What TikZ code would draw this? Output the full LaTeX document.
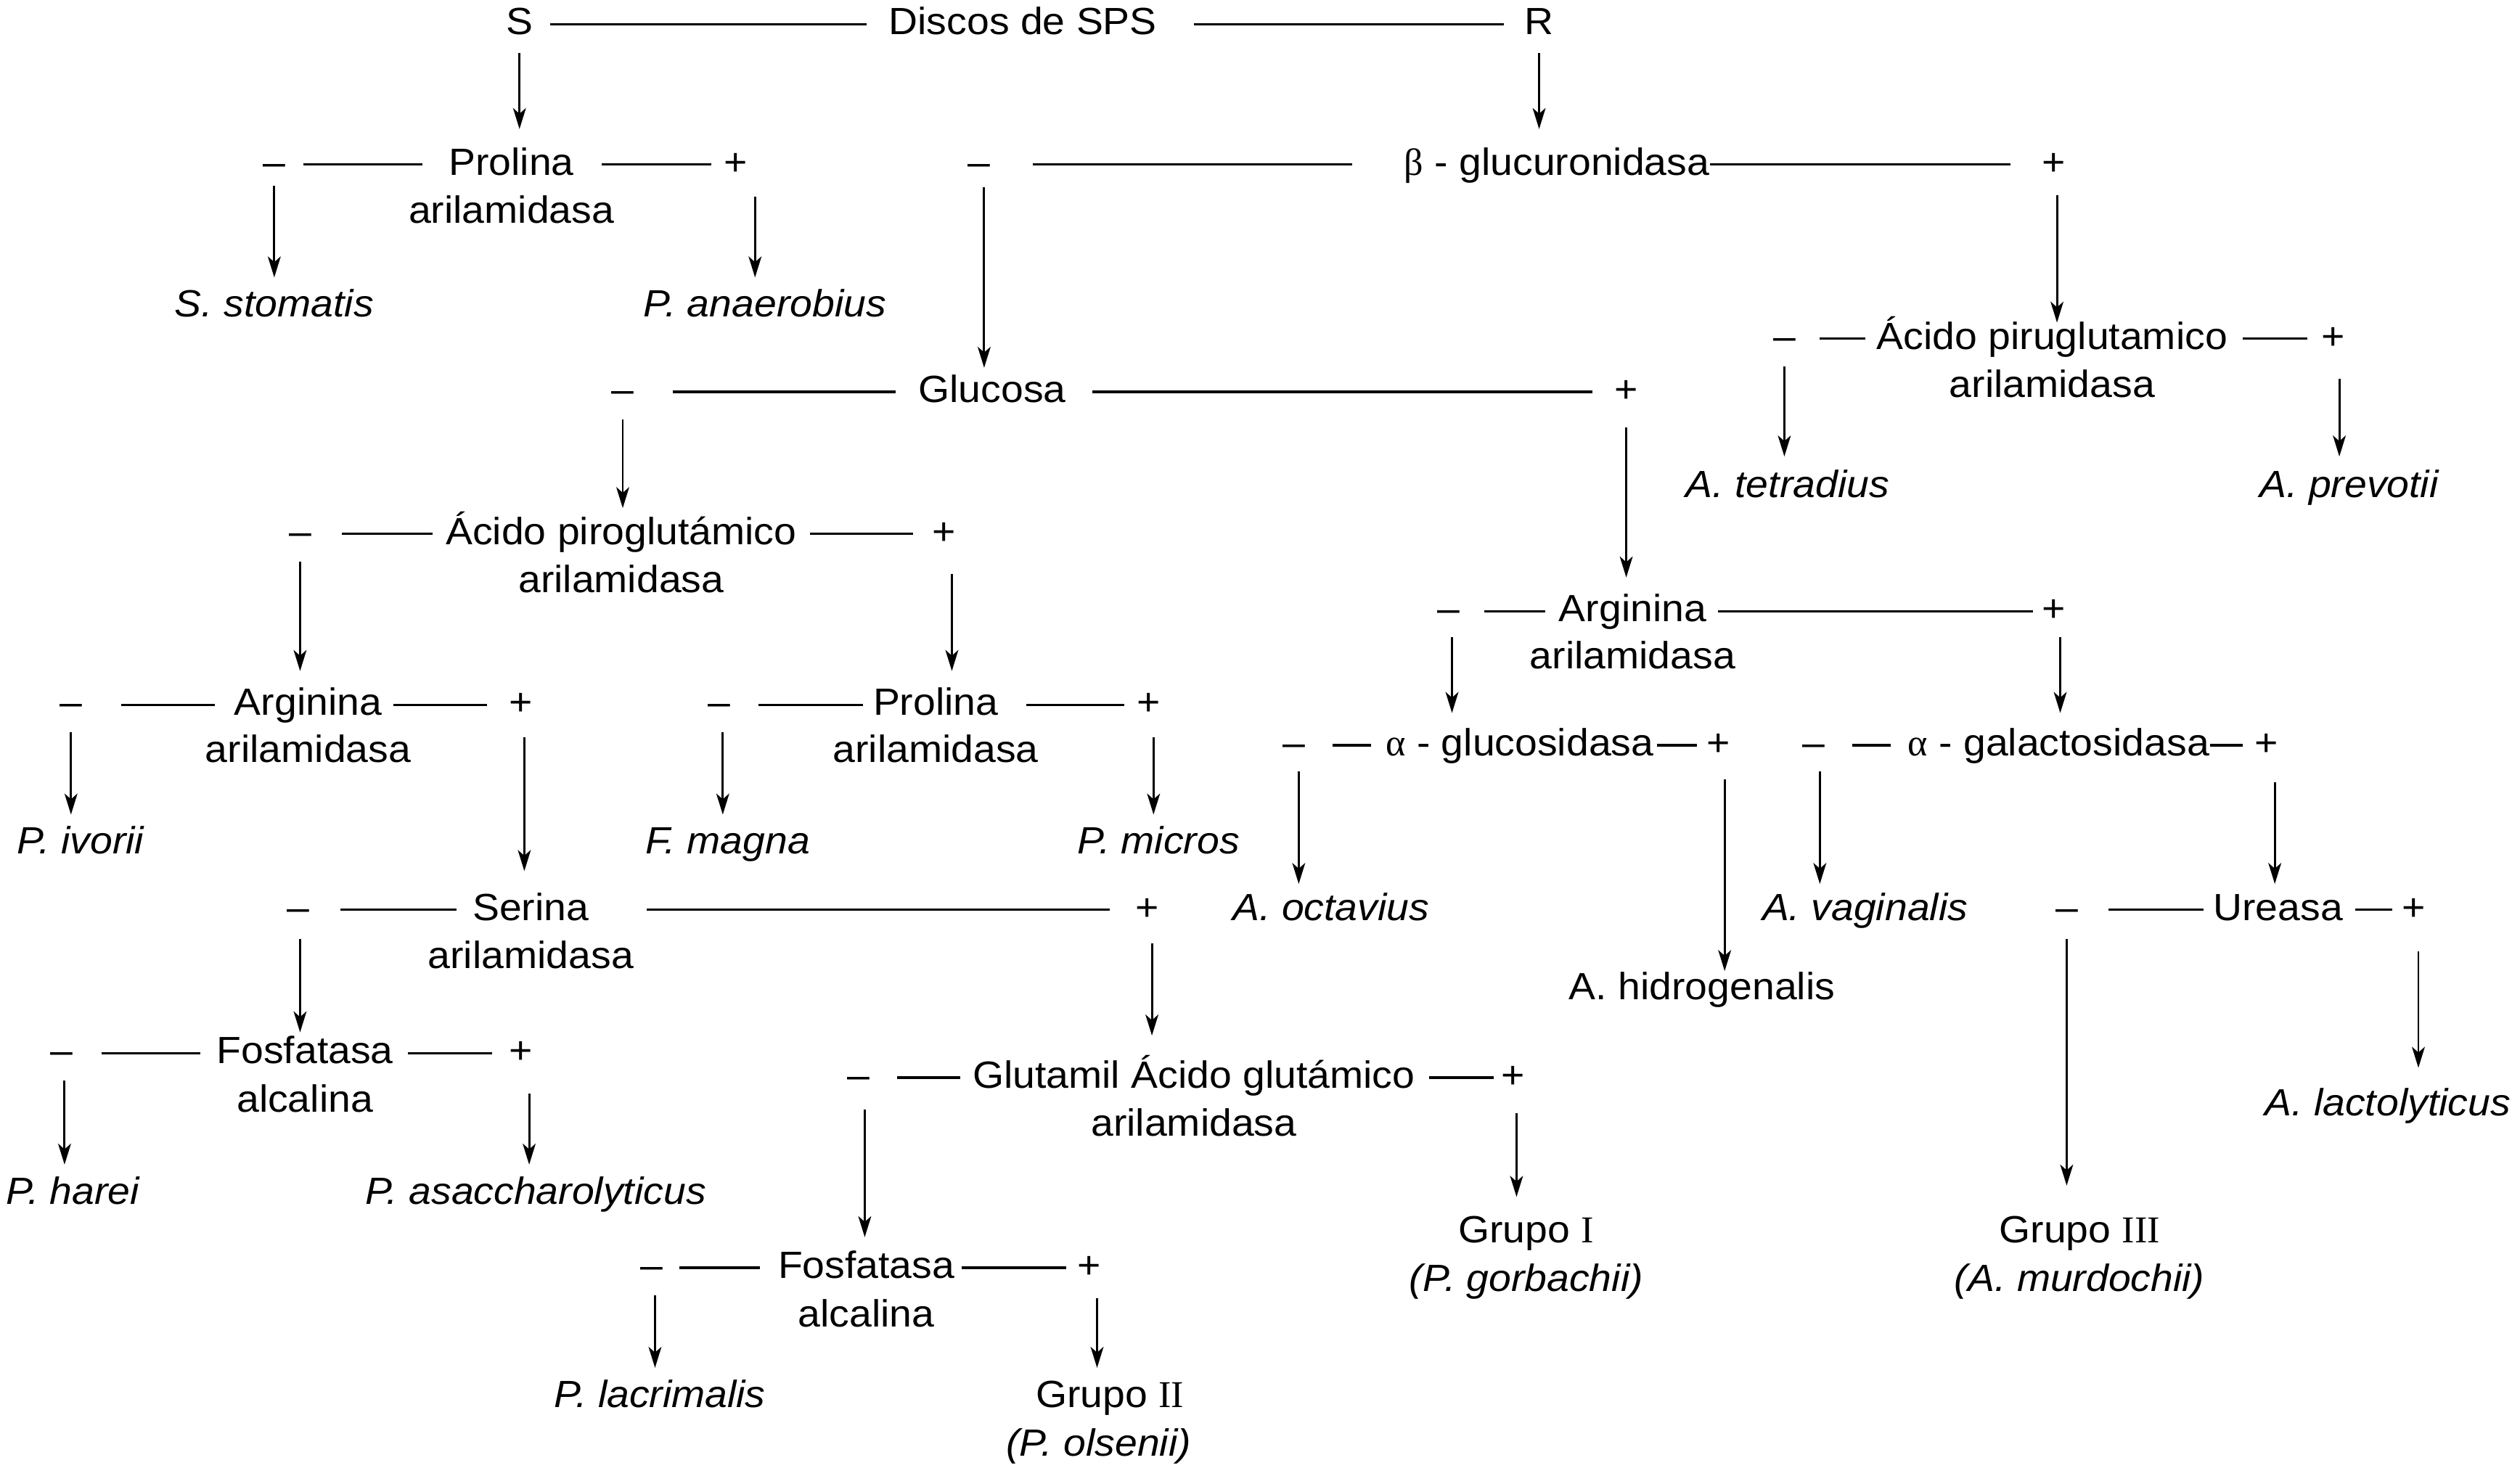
\documentclass[tikz,border=0pt]{standalone}
\usepackage{fontspec}
\setmainfont{Liberation Sans}[FakeStretch=1.06]
\newfontfamily\serfont{Liberation Serif}
\usetikzlibrary{arrows.meta}
\tikzset{
  txt/.style={inner sep=0pt, text height=17pt, text depth=4pt, font=\fontsize{23.5}{28}\selectfont},
  sp/.style={txt, font=\fontsize{23.5}{28}\selectfont\itshape},
  sg/.style={txt},
  hl/.style={line width=1.5pt},
  arr/.style={line width=1.3pt, -{Stealth[length=13pt, width=8pt, inset=3.5pt]}}
}
\newcommand\grk[1]{{\serfont #1}}
\begin{document}
\begin{tikzpicture}[x=1pt, y=-1pt]
\useasboundingbox (0,0) rectangle (1562,915);
% ---------- top
\node[txt] (S) at (322,15) {S};
\node[txt] (disc) at (634,15) {Discos de SPS};
\node[txt] (R) at (954,15) {R};
\draw[hl, shorten <=19pt, shorten >=97pt] (S.center) -- (disc.center);
\draw[hl, shorten <=106pt, shorten >=22pt] (disc.center) -- (R.center);
% ---------- Prolina (S branch)
\node[sg] (mpro) at (170,102) {–};
\node[txt] (pro) at (317,102) {Prolina};
\node[txt] (pro2) at (317,132) {arilamidasa};
\node[sg] (ppro) at (456,102) {+};
\draw[arr, shorten <=18pt, shorten >=22pt] (S.center) -- (S.center |- pro.center);
\draw[hl, shorten <=18pt, shorten >=55pt] (mpro.center) -- (pro.center);
\draw[hl, shorten <=56pt, shorten >=15pt] (pro.center) -- (ppro.center);
\node[sp] (sst) at (170,190) {S. stomatis};
\node[sp] (pan) at (474,190) {P. anaerobius};
\draw[arr, shorten <=13pt, shorten >=18pt] (mpro.center) -- (mpro.center |- sst.center);
\draw[arr, shorten <=20pt, shorten >=18pt] ([xshift=12pt]ppro.center) -- ([xshift=12pt]ppro.center |- pan.center);
% ---------- beta-glucuronidasa (R branch)
\node[sg] (mbg) at (607,102) {–};
\node[txt] (bg) at (965,102) {\grk{β} - glucuronidasa};
\node[sg] (pbg) at (1273,102) {+};
\draw[arr, shorten <=18pt, shorten >=22pt] (R.center) -- (R.center |- bg.center);
\draw[hl, shorten <=33pt, shorten >=127pt] (mbg.center) -- (bg.center);
\draw[hl, shorten <=95pt, shorten >=27pt] (bg.center) -- (pbg.center);
% ---------- Acido piruglutamico (right)
\node[sg] (macr) at (1106,210) {–};
\node[txt] (acr) at (1272,210) {Ácido piruglutamico};
\node[txt] (acr2) at (1272,240) {arilamidasa};
\node[sg] (pacr) at (1446,210) {+};
\draw[arr, shorten <=19pt, shorten >=10pt] ([xshift=2pt]pbg.center) -- ([xshift=2pt]pbg.center |- acr.center);
\draw[hl, shorten <=22pt, shorten >=116pt] (macr.center) -- (acr.center);
\draw[hl, shorten <=118pt, shorten >=16pt] (acr.center) -- (pacr.center);
\node[sp] (ate) at (1108,302) {A. tetradius};
\node[sp] (apr) at (1456,302) {A. prevotii};
\draw[arr, shorten <=17pt, shorten >=19pt] (macr.center) -- (macr.center |- ate.center);
\draw[arr, shorten <=25pt, shorten >=19pt] ([xshift=4pt]pacr.center) -- ([xshift=4pt]pacr.center |- apr.center);
% ---------- Glucosa
\node[sg] (mglu) at (386,243) {–};
\node[txt] (glu) at (615,243) {Glucosa};
\node[sg] (pglu) at (1008,243) {+};
\draw[arr, shorten <=14pt, shorten >=15pt] ([xshift=3pt]mbg.center) -- ([xshift=3pt]mbg.center |- glu.center);
\draw[hl, shorten <=31pt, shorten >=60pt] (mglu.center) -- (glu.center);
\draw[hl, shorten <=62pt, shorten >=21pt] (glu.center) -- (pglu.center);
% ---------- Acido piroglutamico (left)
\node[sg] (mapg) at (186,331) {–};
\node[txt] (apg) at (385,331) {Ácido piroglutámico};
\node[txt] (apg2) at (385,361) {arilamidasa};
\node[sg] (papg) at (585,331) {+};
\draw[arr, shorten <=17pt, shorten >=16pt] (mglu.center) -- (mglu.center |- apg.center);
\draw[hl, shorten <=26pt, shorten >=117pt] (mapg.center) -- (apg.center);
\draw[hl, shorten <=117pt, shorten >=19pt] (apg.center) -- (papg.center);
% ---------- Arginina (right)
\node[sg] (margR) at (898,379) {–};
\node[txt] (argR) at (1012,379) {Arginina};
\node[txt] (argR2) at (1012,408) {arilamidasa};
\node[sg] (pargR) at (1273,379) {+};
\draw[arr, shorten <=22pt, shorten >=21pt] (pglu.center) -- (pglu.center |- argR.center);
\draw[hl, shorten <=22pt, shorten >=54pt] (margR.center) -- (argR.center);
\draw[hl, shorten <=53pt, shorten >=13pt] (argR.center) -- (pargR.center);
% ---------- Arginina (left)
\node[sg] (margL) at (44,437) {–};
\node[txt] (argL) at (191,437) {Arginina};
\node[txt] (argL2) at (191,466) {arilamidasa};
\node[sg] (pargL) at (323,437) {+};
\draw[arr, shorten <=17pt, shorten >=21pt] (mapg.center) -- (mapg.center |- argL.center);
\draw[hl, shorten <=31pt, shorten >=58pt] (margL.center) -- (argL.center);
\draw[hl, shorten <=53pt, shorten >=21pt] (argL.center) -- (pargL.center);
\node[sp] (piv) at (50,523) {P. ivorii};
\draw[arr, shorten <=17pt, shorten >=18pt] (margL.center) -- (margL.center |- piv.center);
% ---------- Prolina (middle)
\node[sg] (mproM) at (446,437) {–};
\node[txt] (proM) at (580,437) {Prolina};
\node[txt] (proM2) at (580,466) {arilamidasa};
\node[sg] (pproM) at (712,437) {+};
\draw[arr, shorten <=25pt, shorten >=21pt] ([xshift=5pt]papg.center) -- ([xshift=5pt]papg.center |- proM.center);
\draw[hl, shorten <=24pt, shorten >=45pt] (mproM.center) -- (proM.center);
\draw[hl, shorten <=56pt, shorten >=15pt] (proM.center) -- (pproM.center);
\node[sp] (fma) at (451,523) {F. magna};
\node[sp] (pmi) at (718,523) {P. micros};
\draw[arr, shorten <=17pt, shorten >=18pt] ([xshift=2pt]mproM.center) -- ([xshift=2pt]mproM.center |- fma.center);
\draw[arr, shorten <=20pt, shorten >=18pt] ([xshift=3pt]pproM.center) -- ([xshift=3pt]pproM.center |- pmi.center);
% ---------- alpha-glucosidasa
\node[sg] (maglu) at (802,462) {–};
\node[txt] (aglu) at (942,462) {\grk{α} - glucosidasa};
\node[sg] (paglu) at (1065,462) {+};
\draw[arr, shorten <=16pt, shorten >=20pt] ([xshift=2pt]margR.center) -- ([xshift=2pt]margR.center |- aglu.center);
\draw[hl, shorten <=24pt, shorten >=92pt] (maglu.center) -- (aglu.center);
\draw[hl, shorten <=85pt, shorten >=13pt] (aglu.center) -- (paglu.center);
\node[sp] (aoc) at (825,564) {A. octavius};
\node[txt] (ahi) at (1055,613) {A. hidrogenalis};
\draw[arr, shorten <=16pt, shorten >=16pt] ([xshift=3pt]maglu.center) -- ([xshift=3pt]maglu.center |- aoc.center);
\draw[arr, shorten <=21pt, shorten >=11pt] ([xshift=4pt]paglu.center) -- ([xshift=4pt]paglu.center |- ahi.center);
% ---------- alpha-galactosidasa
\node[sg] (magal) at (1124,462) {–};
\node[txt] (agal) at (1276,462) {\grk{α} - galactosidasa};
\node[sg] (pagal) at (1405,462) {+};
\draw[arr, shorten <=16pt, shorten >=20pt] ([xshift=4pt]pargR.center) -- ([xshift=4pt]pargR.center |- agal.center);
\draw[hl, shorten <=24pt, shorten >=104pt] (magal.center) -- (agal.center);
\draw[hl, shorten <=94pt, shorten >=15pt] (agal.center) -- (pagal.center);
\node[sp] (ava) at (1156,564) {A. vaginalis};
\draw[arr, shorten <=16pt, shorten >=16pt] ([xshift=4pt]magal.center) -- ([xshift=4pt]magal.center |- ava.center);
% ---------- Ureasa
\node[sg] (mure) at (1281,564) {–};
\node[txt] (ure) at (1412,564) {Ureasa};
\node[sg] (pure) at (1496,564) {+};
\draw[arr, shorten <=23pt, shorten >=16pt] ([xshift=5pt]pagal.center) -- ([xshift=5pt]pagal.center |- ure.center);
\draw[hl, shorten <=26pt, shorten >=46pt] (mure.center) -- (ure.center);
\draw[hl, shorten <=48pt, shorten >=13pt] (ure.center) -- (pure.center);
\node[txt] (g3) at (1289,764) {Grupo \grk{III}};
\node[sp] (g3b) at (1289,794) {(A. murdochii)};
\node[sp] (ala) at (1480,685) {A. lactolyticus};
\draw[arr, shorten <=18pt, shorten >=29pt] (mure.center) -- (mure.center |- g3.center);
\draw[arr, shorten <=26pt, shorten >=23pt] ([xshift=3pt]pure.center) -- ([xshift=3pt]pure.center |- ala.center);
% ---------- Serina
\node[sg] (mser) at (185,564) {–};
\node[txt] (ser) at (329,564) {Serina};
\node[txt] (ser2) at (329,594) {arilamidasa};
\node[sg] (pser) at (711,564) {+};
\draw[arr, shorten <=20pt, shorten >=24pt] ([xshift=2pt]pargL.center) -- ([xshift=2pt]pargL.center |- ser.center);
\draw[hl, shorten <=26pt, shorten >=46pt] (mser.center) -- (ser.center);
\draw[hl, shorten <=72pt, shorten >=23pt] (ser.center) -- (pser.center);
% ---------- Fosfatasa alcalina (left)
\node[sg] (mfos1) at (38,653) {–};
\node[txt] (fos1) at (189,653) {Fosfatasa};
\node[txt] (fos1b) at (189,683) {alcalina};
\node[sg] (pfos1) at (323,653) {+};
\draw[arr, shorten <=18pt, shorten >=13pt] ([xshift=1pt]mser.center) -- ([xshift=1pt]mser.center |- fos1.center);
\draw[hl, shorten <=25pt, shorten >=65pt] (mfos1.center) -- (fos1.center);
\draw[hl, shorten <=64pt, shorten >=18pt] (fos1.center) -- (pfos1.center);
\node[sp] (pha) at (45,740) {P. harei};
\node[sp] (pas) at (332,740) {P. asaccharolyticus};
\draw[arr, shorten <=17pt, shorten >=18pt] ([xshift=2pt]mfos1.center) -- ([xshift=2pt]mfos1.center |- pha.center);
\draw[arr, shorten <=25pt, shorten >=18pt] ([xshift=5pt]pfos1.center) -- ([xshift=5pt]pfos1.center |- pas.center);
% ---------- Glutamil
\node[sg] (mglt) at (532,668) {–};
\node[txt] (glt) at (740,668) {Glutamil Ácido glutámico};
\node[txt] (glt2) at (740,698) {arilamidasa};
\node[sg] (pglt) at (938,668) {+};
\draw[arr, shorten <=21pt, shorten >=26pt] ([xshift=3pt]pser.center) -- ([xshift=3pt]pser.center |- glt.center);
\draw[hl, shorten <=24pt, shorten >=145pt] (mglt.center) -- (glt.center);
\draw[hl, shorten <=146pt, shorten >=12pt] (glt.center) -- (pglt.center);
\node[txt] (g1) at (946,764) {Grupo \grk{I}};
\node[sp] (g1b) at (946,794) {(P. gorbachii)};
\draw[arr, shorten <=22pt, shorten >=22pt] ([xshift=2pt]pglt.center) -- ([xshift=2pt]pglt.center |- g1.center);
% ---------- Fosfatasa alcalina (middle)
\node[sg] (mfos2) at (404,786) {–};
\node[txt] (fos2) at (537,786) {Fosfatasa};
\node[txt] (fos2b) at (537,816) {alcalina};
\node[sg] (pfos2) at (675,786) {+};
\draw[arr, shorten <=20pt, shorten >=19pt] ([xshift=4pt]mglt.center) -- ([xshift=4pt]mglt.center |- fos2.center);
\draw[hl, shorten <=17pt, shorten >=66pt] (mfos2.center) -- (fos2.center);
\draw[hl, shorten <=59pt, shorten >=14pt] (fos2.center) -- (pfos2.center);
\node[sp] (pla) at (409,866) {P. lacrimalis};
\node[txt] (g2) at (688,866) {Grupo \grk{II}};
\node[sp] (g2b) at (681,896) {(P. olsenii)};
\draw[arr, shorten <=17pt, shorten >=18pt] ([xshift=2pt]mfos2.center) -- ([xshift=2pt]mfos2.center |- pla.center);
\draw[arr, shorten <=19pt, shorten >=18pt] ([xshift=5pt]pfos2.center) -- ([xshift=5pt]pfos2.center |- g2.center);
\end{tikzpicture}
\end{document}
